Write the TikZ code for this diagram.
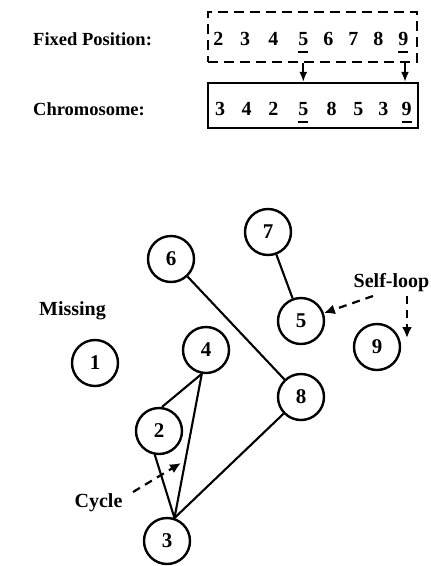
\documentclass[tikz,border=0pt]{standalone}
\usepackage{fontspec}
\setmainfont{Liberation Serif}
\usetikzlibrary{arrows.meta}
% digit with a bar drawn underneath it
\newcommand\barreddigit[1]{\setbox0\hbox{#1}\rlap{\rule[-7.5pt]{\wd0}{1.8pt}}#1}

\begin{document}
\begin{tikzpicture}[x=1pt,y=-1pt,
  headlabel/.style={font=\fontsize{18.5}{22}\selectfont\bfseries, inner sep=0pt, anchor=base west},
  digit/.style={font=\fontsize{20}{24}\selectfont\bfseries, inner sep=0pt, anchor=base},
  vertex/.style={circle, draw, line width=2.4pt, minimum size=46pt, inner sep=0pt,
                 font=\fontsize{21}{24}\selectfont\bfseries},
  tag/.style={font=\fontsize{20}{24}\selectfont\bfseries, inner sep=0pt, anchor=base},
  edge/.style={line width=2.1pt},
  maparrow/.style={line width=1.7pt, -{Latex[length=10pt,width=8pt]}},
  hintarrow/.style={line width=2.2pt, dash pattern=on 8pt off 6pt, -{Latex[length=11pt,width=10pt]}}
]
\useasboundingbox (0,0) rectangle (431,566);

% ---- encoding rows ----
\node[headlabel] (fixlbl) at (33,45) {Fixed Position:};
\node[headlabel] (chrlbl) at (33,115) {Chromosome:};

\node[draw, line width=2.2pt, dash pattern=on 10pt off 6pt, minimum width=209pt,
      minimum height=50pt, inner sep=0pt] (fixbox) at (312.5,37) {};
\node[draw, line width=2.4pt, minimum width=210pt, minimum height=45pt, inner sep=0pt]
      (chrbox) at (313,105.5) {};

\foreach \d/\x [count=\i] in {2/218.3, 3/245, 4/273.3, \barreddigit{5}/303.3,
                               6/328.3, 7/353.3, 8/378.3, \barreddigit{9}/403.3}
  \node[digit] (f\i) at (\x,45) {\d};

\foreach \d/\x [count=\i] in {3/220, 4/246.7, 2/273.3, \barreddigit{5}/303.3,
                               8/331.7, 5/358.3, 3/383.3, \barreddigit{9}/406.7}
  \node[digit] (c\i) at (\x,115) {\d};

\draw[maparrow] (f4 |- fixbox.south) -- (f4 |- chrbox.north);
\draw[maparrow] ([xshift=1.7pt]f8.center |- fixbox.south) -- ([xshift=1.7pt]f8.center |- chrbox.north);

% ---- graph ----
\node[vertex] (n1) at (95,363) {1};
\node[vertex] (n2) at (159,431) {2};
\node[vertex] (n3) at (167,541) {3};
\node[vertex] (n4) at (206,350) {4};
\node[vertex] (n5) at (301,321) {5};
\node[vertex] (n6) at (171,259) {6};
\node[vertex] (n7) at (268,232) {7};
\node[vertex] (n8) at (301,397) {8};
\node[vertex] (n9) at (377,347) {9};

\draw[edge] (n6) -- (n8);
\draw[edge] (n7) -- (n5);
\draw[edge] (n4.260) -- (n2.83);
\draw[edge] (n4.260) -- (n3.72);
\draw[edge] (n2.260) -- (n3.72);
\draw[edge] (n3.72) -- (n8);

% ---- annotations ----
\node[tag] (missing) at (72.5,315) {Missing};
\node[tag] (selfloop) at (391.5,287) {Self-loop};
\node[tag] (cycle) at (98.5,507) {Cycle};

\coordinate (slA) at (373,296);
\coordinate (slB) at (407,296);
\coordinate (slBend) at (407,338);
\draw[hintarrow] (slA) -- (n5);
\draw[hintarrow] (slB) -- (slBend);

\coordinate (cyA) at (133,492);
\coordinate (cyB) at (181,463);
\draw[hintarrow] (cyA) -- (cyB);
\end{tikzpicture}
\end{document}
